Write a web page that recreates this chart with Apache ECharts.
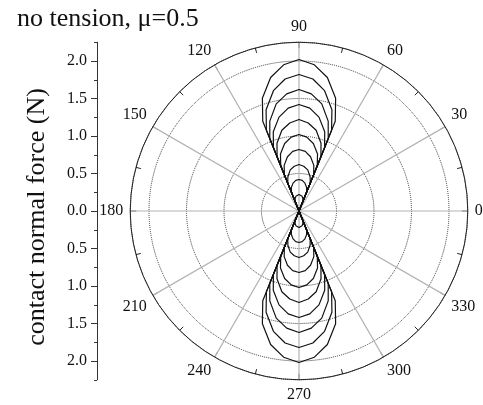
<!DOCTYPE html>
<html>
<head>
<meta charset="utf-8">
<title>contact normal force polar</title>
<script src="https://cdn.jsdelivr.net/npm/echarts@6/dist/echarts.min.js"></script>
<style>
  html, body { margin: 0; padding: 0; background: #fff; }
  #chart { width: 483px; height: 405px; }
</style>
</head>
<body>
<div id="chart"></div>
<script>
// angles (deg) of the points on the upper lobe, the lower lobe is its mirror
const upperAngles = [68, 72, 78, 84, 90, 96, 102, 108, 112]
const lowerAngles = [248, 252, 258, 264, 270, 276, 282, 288, 292]
// edges of the lobes, force drops to 0 there
const upperEdge = [67, 113]
const lowerEdge = [247, 293]

// contact normal force (N) per load step
const force1 = [1.29, 1.58, 1.82, 1.96, 2.02, 1.96, 1.82, 1.58, 1.29]
const force2 = [1.16, 1.42, 1.64, 1.77, 1.82, 1.77, 1.64, 1.42, 1.16]
const force3 = [1.04, 1.26, 1.46, 1.57, 1.62, 1.57, 1.46, 1.26, 1.04]
const force4 = [0.91, 1.11, 1.28, 1.38, 1.42, 1.38, 1.28, 1.11, 0.91]
const force5 = [0.78, 0.95, 1.10, 1.18, 1.22, 1.18, 1.10, 0.95, 0.78]
const force6 = [0.65, 0.80, 0.92, 0.99, 1.02, 0.99, 0.92, 0.80, 0.65]
const force7 = [0.52, 0.64, 0.74, 0.80, 0.82, 0.80, 0.74, 0.64, 0.52]
const force8 = [0.40, 0.48, 0.56, 0.60, 0.62, 0.60, 0.56, 0.48, 0.40]
const force9 = [0.27, 0.33, 0.38, 0.41, 0.42, 0.41, 0.38, 0.33, 0.27]
const force10 = [0.14, 0.17, 0.20, 0.21, 0.22, 0.21, 0.20, 0.17, 0.14]
const forces = [force1, force2, force3, force4, force5, force6, force7, force8, force9, force10]

// tick labels
const angleLabels = [0, 30, 60, 90, 120, 150, 180, 210, 240, 270, 300, 330]
const forceTicks = [-2, -1.5, -1, -0.5, 0, 0.5, 1, 1.5, 2]
const forceMinorTicks = [-2.25, -1.75, -1.25, -0.75, -0.25, 0.25, 0.75, 1.25, 1.75, 2.25]

const FONT = 'Liberation Serif'
const center = [299, 211]
const R = 168.75 // 2.25 N

const chart = echarts.init(document.getElementById('chart'))

// one closed curve per load step: upper lobe then lower lobe
const seriesArr = forces.map((vals, i) => {
  const data = [[0, upperEdge[0]]]
  upperAngles.forEach((a, k) => data.push([vals[k], a]))
  data.push([0, upperEdge[1]])
  data.push([0, lowerEdge[0]])
  lowerAngles.forEach((a, k) => data.push([vals[k], a]))
  data.push([0, lowerEdge[1]])
  return {
    type: 'line',
    name: 'step' + (i + 1),
    coordinateSystem: 'polar',
    data: data,
    symbol: 'none',
    silent: true,
    lineStyle: { color: '#111', width: 1.2 }
  }
})

chart.setOption({
  animation: false,
  textStyle: { fontFamily: FONT },
  polar: { center: center, radius: R },
  angleAxis: {
    type: 'value',
    min: 0,
    max: 360,
    interval: 30,
    startAngle: 0,
    clockwise: false,
    axisLine: { lineStyle: { color: '#222', width: 1 } },
    axisTick: { show: true, inside: true, length: 6, lineStyle: { color: '#555' } },
    minorTick: { show: true, splitNumber: 2, length: 5, lineStyle: { color: '#222' } },
    axisLabel: {
      margin: 7,
      fontSize: 16,
      fontFamily: FONT,
      color: '#111',
      formatter: v => (angleLabels.indexOf(v) >= 0 ? String(v) : '')
    },
    splitLine: { show: true, lineStyle: { color: '#b4b4b4', width: 1.2 } }
  },
  radiusAxis: {
    type: 'value',
    min: 0,
    max: 2.25,
    interval: 0.5,
    axisLine: { show: false },
    axisTick: { show: false },
    axisLabel: { show: false },
    splitLine: { show: true, lineStyle: { type: 'dotted', color: '#333', width: 1 } }
  },
  // the vertical force scale on the left: 2.0 .. 0 .. 2.0
  grid: { left: 97, top: center[1] - R, width: 10, height: 2 * R },
  xAxis: { type: 'value', show: false },
  yAxis: [
    {
      type: 'value',
      min: -2.25,
      max: 2.25,
      position: 'left',
      axisLine: { show: true, lineStyle: { color: '#333' } },
      axisTick: { show: true, length: 6, customValues: forceTicks, lineStyle: { color: '#333' } },
      axisLabel: {
        customValues: forceTicks,
        margin: 10,
        fontSize: 16,
        fontFamily: FONT,
        color: '#111',
        formatter: v => Math.abs(v).toFixed(1)
      },
      splitLine: { show: false }
    },
    {
      type: 'value',
      min: -2.25,
      max: 2.25,
      position: 'left',
      axisLine: { show: false },
      axisTick: { show: true, length: 3, customValues: forceMinorTicks, lineStyle: { color: '#333' } },
      axisLabel: { show: false },
      splitLine: { show: false }
    }
  ],
  graphic: [
    {
      type: 'text',
      left: 17,
      top: 6,
      style: { text: 'no tension, μ=0.5', fontSize: 26, fontFamily: FONT, fill: '#111' }
    },
    {
      type: 'text',
      x: 37,
      y: 217,
      rotation: Math.PI / 2,
      style: {
        text: 'contact normal force (N)',
        fontSize: 26,
        fontFamily: FONT,
        fill: '#111',
        align: 'center',
        verticalAlign: 'middle'
      }
    }
  ],
  series: seriesArr
})
</script>
</body>
</html>
